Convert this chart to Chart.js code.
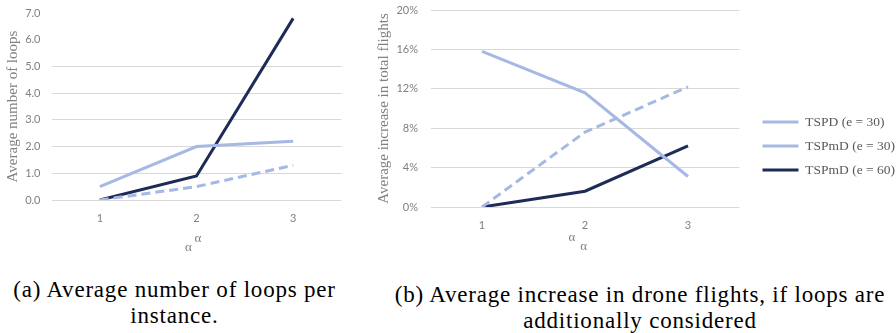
<!DOCTYPE html>
<html>
<head>
<meta charset="utf-8">
<script src="https://cdn.jsdelivr.net/npm/chart.js@4/dist/chart.umd.min.js"></script>
<style>
  html, body { margin: 0; padding: 0; background: #fff; }
  body { width: 896px; height: 333px; position: relative; overflow: hidden; }
  #wa { position: absolute; left: 0; top: 0; width: 350px; height: 255px; }
  #wb { position: absolute; left: 370px; top: 0; width: 526px; height: 282px; }
  .cap { position: absolute; font-family: "Liberation Serif", serif; font-size: 23px; letter-spacing: 0.8px; line-height: 26px; color: #000; text-align: center; white-space: nowrap; }
  #capa { left: 0; width: 349px; top: 277px; }
  #capb { left: 380px; width: 520px; top: 282px; }
</style>
</head>
<body>
<div id="wa"><canvas id="ca"></canvas></div>
<div id="wb"><canvas id="cb"></canvas></div>
<div class="cap" id="capa">(a) Average number of loops per<br>instance.</div>
<div class="cap" id="capb">(b) Average increase in drone flights, if loops are<br>additionally considered</div>
<script>
// ---- data ----
const categories = ['1', '2', '3'];
const seriesNames = ['TSPD (e = 30)', 'TSPmD (e = 30)', 'TSPmD (e = 60)'];
// (a) average number of loops per instance
const loopsTSPD30 = [0.0, 0.5, 1.3];
const loopsTSPmD30 = [0.5, 2.0, 2.2];
const loopsTSPmD60 = [0.0, 0.9, 6.8];
// (b) average increase in total flights (%)
const incTSPD30 = [0.0, 7.6, 12.2];
const incTSPmD30 = [15.8, 11.6, 3.1];
const incTSPmD60 = [0.0, 1.6, 6.2];
// tick settings
const loopTicksMax = 7, loopTicksStep = 1;
const incTicksMax = 20, incTicksStep = 4;

const LIGHT = '#A6B9E4';
const DARK = '#1F2B57';
const GRID = '#D9D9D9';
const TICK = '#808080';
const tickFont = { family: 'Lato, "Liberation Sans", sans-serif', size: 11 };
const serif = '"Liberation Serif", serif';

function makeDatasets(a, b, c) {
  return [
    { label: seriesNames[0], data: a, borderColor: LIGHT, backgroundColor: LIGHT, borderWidth: 3, borderDash: [9, 5], pointRadius: 0, tension: 0 },
    { label: seriesNames[1], data: b, borderColor: LIGHT, backgroundColor: LIGHT, borderWidth: 3, pointRadius: 0, tension: 0 },
    { label: seriesNames[2], data: c, borderColor: DARK, backgroundColor: DARK, borderWidth: 3, pointRadius: 0, tension: 0 }
  ];
}
function fixPad(s) { s.paddingTop = 0; s.paddingBottom = 0; s.paddingLeft = 0; s.paddingRight = 0; }

// ---- chart (a) ----
new Chart(document.getElementById('ca'), {
  type: 'line',
  data: { labels: categories, datasets: makeDatasets(loopsTSPD30, loopsTSPmD30, loopsTSPmD60) },
  options: {
    responsive: true, maintainAspectRatio: false, animation: false,
    layout: { padding: { top: 13, right: 8.5, left: 0, bottom: 0 } },
    plugins: { legend: { display: false }, tooltip: { enabled: false } },
    scales: {
      x: {
        offset: true,
        grid: { display: false, drawTicks: false },
        border: { display: false },
        ticks: { color: TICK, font: tickFont, padding: 12 },
        title: { display: true, text: ['\u2009α', 'α\u2003\u2005'], color: TICK, font: { family: serif, size: 13, lineHeight: 0.7 }, padding: { top: 0, bottom: 2.5 } },
        afterFit: s => { s.height = 55; fixPad(s); }
      },
      y: {
        min: 0, max: loopTicksMax,
        grid: { color: c => (c.tick && c.tick.value <= 5 ? GRID : 'rgba(0,0,0,0)'), drawTicks: false, lineWidth: 1 },
        border: { display: false },
        ticks: { stepSize: loopTicksStep, color: TICK, font: tickFont, padding: 11, callback: v => Number(v).toFixed(1) },
        title: { display: true, text: 'Average number of loops', color: TICK, font: { family: serif, size: 15 }, padding: { top: 4, bottom: 0 } },
        afterFit: s => { s.width = 51.5; fixPad(s); }
      }
    }
  }
});

// ---- chart (b) ----
const legendWidthPlugin = {
  id: 'legendWidth',
  beforeUpdate(chart) {
    const lg = chart.legend;
    if (lg && !lg._wPatched) {
      const f = lg.fit;
      lg.fit = function () { f.call(this); this.width = 144; };
      lg._wPatched = true;
    }
  }
};
new Chart(document.getElementById('cb'), {
  type: 'line',
  data: { labels: categories, datasets: makeDatasets(incTSPD30, incTSPmD30, incTSPmD60) },
  plugins: [legendWidthPlugin],
  options: {
    responsive: true, maintainAspectRatio: false, animation: false,
    layout: { padding: { top: 10, right: 0, left: 0, bottom: 0 } },
    plugins: {
      tooltip: { enabled: false },
      legend: {
        position: 'right', align: 'center',
        labels: { usePointStyle: true, pointStyle: 'line', pointStyleWidth: 36, boxHeight: 13.5, padding: 10.5, color: '#595959', font: { family: serif, size: 13.5 } }
      }
    },
    scales: {
      x: {
        offset: true,
        grid: { display: false, drawTicks: false },
        border: { display: false },
        ticks: { color: TICK, font: tickFont, padding: 12 },
        title: { display: true, text: ['α\u2003\u2003', 'α\u2009'], color: TICK, font: { family: serif, size: 13, lineHeight: 0.7 }, padding: { top: 0, bottom: 30.5 } },
        afterFit: s => { s.height = 75; fixPad(s); }
      },
      y: {
        min: 0, max: incTicksMax,
        grid: { color: GRID, drawTicks: false, lineWidth: 1 },
        border: { display: false },
        ticks: { stepSize: incTicksStep, color: TICK, font: tickFont, padding: 12.5, callback: v => v + '%' },
        title: { display: true, text: 'Average increase in total flights', color: TICK, font: { family: serif, size: 15 }, padding: { top: 5, bottom: 0 } },
        afterFit: s => { s.width = 60.5; fixPad(s); }
      },
      yGap: {
        type: 'linear', position: 'right', display: true,
        grid: { display: false, drawTicks: false },
        border: { display: false },
        ticks: { display: false },
        afterFit: s => { s.width = 12.5; fixPad(s); }
      }
    }
  }
});
</script>
</body>
</html>
